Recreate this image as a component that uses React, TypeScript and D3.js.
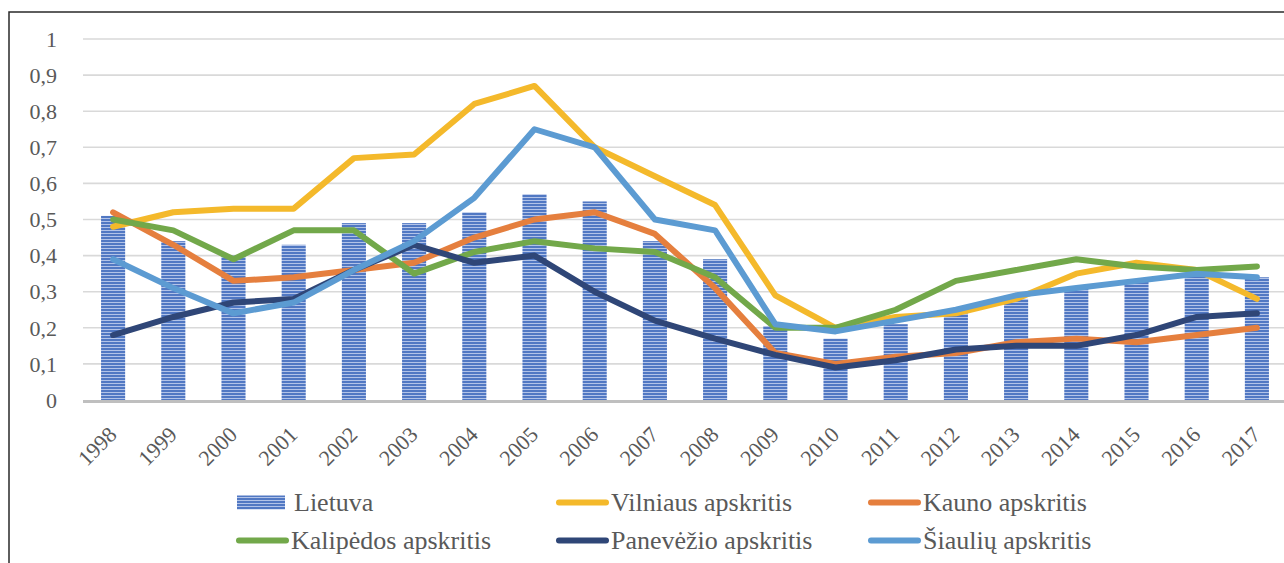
import React, { useRef, useEffect } from 'react';
import * as d3 from 'd3';

const years = ['1998', '1999', '2000', '2001', '2002', '2003', '2004', '2005', '2006', '2007',
  '2008', '2009', '2010', '2011', '2012', '2013', '2014', '2015', '2016', '2017'];

const lietuva = [0.51, 0.44, 0.40, 0.43, 0.49, 0.49, 0.52, 0.57, 0.55, 0.44,
  0.39, 0.205, 0.17, 0.21, 0.24, 0.28, 0.31, 0.33, 0.35, 0.34];
const vilniaus = [0.48, 0.52, 0.53, 0.53, 0.67, 0.68, 0.82, 0.87, 0.70, 0.62,
  0.54, 0.29, 0.20, 0.23, 0.24, 0.28, 0.35, 0.38, 0.36, 0.28];
const kauno = [0.52, 0.43, 0.33, 0.34, 0.36, 0.38, 0.45, 0.50, 0.52, 0.46,
  0.31, 0.13, 0.10, 0.12, 0.13, 0.16, 0.17, 0.16, 0.18, 0.20];
const klaipedos = [0.50, 0.47, 0.39, 0.47, 0.47, 0.35, 0.41, 0.44, 0.42, 0.41,
  0.34, 0.20, 0.20, 0.25, 0.33, 0.36, 0.39, 0.37, 0.36, 0.37];
const panevezio = [0.18, 0.23, 0.27, 0.28, 0.36, 0.43, 0.38, 0.40, 0.30, 0.22,
  0.17, 0.125, 0.09, 0.11, 0.14, 0.15, 0.15, 0.18, 0.23, 0.24];
const siauliu = [0.39, 0.31, 0.24, 0.27, 0.36, 0.44, 0.56, 0.75, 0.70, 0.50,
  0.47, 0.21, 0.19, 0.22, 0.25, 0.29, 0.31, 0.33, 0.35, 0.34];

const yTicks = [0, 0.1, 0.2, 0.3, 0.4, 0.5, 0.6, 0.7, 0.8, 0.9, 1];

const lineSeries = [
  { name: 'Vilniaus apskritis', values: vilniaus, color: '#f4b92b' },
  { name: 'Kauno apskritis', values: kauno, color: '#e57f3e' },
  { name: 'Kalipėdos apskritis', values: klaipedos, color: '#72a84a' },
  { name: 'Panevėžio apskritis', values: panevezio, color: '#2f4677' },
  { name: 'Šiaulių apskritis', values: siauliu, color: '#5c9bd2' },
];

const W = 1284;
const H = 563;
const FONT = 'Liberation Serif';

const App = () => {
  const svgRef = useRef<SVGSVGElement>(null);

  useEffect(() => {
    const svg = d3.select(svgRef.current);
    svg.selectAll('*').remove();

    // stripe pattern for the Lietuva bars
    const pat = svg.append('defs').append('pattern')
      .attr('id', 'stripes')
      .attr('patternUnits', 'userSpaceOnUse')
      .attr('width', 6).attr('height', 3);
    pat.append('rect').attr('width', 6).attr('height', 3).attr('fill', '#5178c3');
    pat.append('rect').attr('y', 2).attr('width', 6).attr('height', 1).attr('fill', '#b2c3e8');

    svg.append('rect').attr('width', W).attr('height', H).attr('fill', '#fff');

    // frame
    svg.append('path')
      .attr('d', `M9,${H} V12 H${W}`)
      .attr('fill', 'none')
      .attr('stroke', '#2a2a2a')
      .attr('stroke-width', 1.5);

    const x = d3.scaleBand().domain(years).range([83, 1287]).paddingInner(0.6).paddingOuter(0.3);
    const y = d3.scaleLinear().domain([0, 1]).range([400, 39]);
    const cx = (yr: string) => (x(yr) as number) + x.bandwidth() / 2;

    // grid
    svg.append('g').selectAll('line')
      .data(yTicks.slice(1))
      .enter().append('line')
      .attr('x1', 83).attr('x2', W)
      .attr('y1', d => y(d)).attr('y2', d => y(d))
      .attr('stroke', '#d9d9d9')
      .attr('stroke-width', 1.6);

    // y labels
    svg.append('g').selectAll('text')
      .data(yTicks)
      .enter().append('text')
      .attr('x', 57)
      .attr('y', d => y(d))
      .attr('dy', '0.35em')
      .attr('text-anchor', 'end')
      .style('font-family', FONT)
      .style('font-size', '22px')
      .style('fill', '#595959')
      .text(d => String(d).replace('.', ','));

    // bars
    svg.append('g').selectAll('rect')
      .data(years)
      .enter().append('rect')
      .attr('x', d => x(d) as number)
      .attr('width', x.bandwidth())
      .attr('y', (d, i) => y(lietuva[i]))
      .attr('height', (d, i) => y(0) - y(lietuva[i]))
      .attr('fill', 'url(#stripes)');

    // x axis line
    svg.append('line')
      .attr('x1', 83).attr('x2', W)
      .attr('y1', 401.5).attr('y2', 401.5)
      .attr('stroke', '#bfbfbf')
      .attr('stroke-width', 3);

    // x labels
    svg.append('g').selectAll('text')
      .data(years)
      .enter().append('text')
      .attr('transform', d => `translate(${cx(d) + 5},436) rotate(-45)`)
      .attr('text-anchor', 'end')
      .style('font-family', FONT)
      .style('font-size', '22px')
      .style('fill', '#595959')
      .text(d => d);

    // lines
    const line = d3.line<number>()
      .x((d, i) => cx(years[i]))
      .y(d => y(d));

    lineSeries.forEach(s => {
      svg.append('path')
        .attr('d', line(s.values))
        .attr('fill', 'none')
        .attr('stroke', s.color)
        .attr('stroke-width', 6)
        .attr('stroke-linejoin', 'round')
        .attr('stroke-linecap', 'round');
    });

    // legend
    const legendItems = [
      { name: 'Lietuva', color: null, tx: 294, row: 0 },
      { name: lineSeries[0].name, color: lineSeries[0].color, tx: 611, row: 0 },
      { name: lineSeries[1].name, color: lineSeries[1].color, tx: 923, row: 0 },
      { name: lineSeries[2].name, color: lineSeries[2].color, tx: 291, row: 1 },
      { name: lineSeries[3].name, color: lineSeries[3].color, tx: 611, row: 1 },
      { name: lineSeries[4].name, color: lineSeries[4].color, tx: 923, row: 1 },
    ];
    const lg = svg.append('g');
    legendItems.forEach(it => {
      const base = 511 + it.row * 38;
      const mid = base - 8.5;
      if (it.color) {
        lg.append('line')
          .attr('x1', it.tx - 52).attr('x2', it.tx - 5)
          .attr('y1', mid).attr('y2', mid)
          .attr('stroke', it.color)
          .attr('stroke-width', 6)
          .attr('stroke-linecap', 'round');
      } else {
        lg.append('rect')
          .attr('x', it.tx - 57).attr('y', mid - 7)
          .attr('width', 48).attr('height', 14)
          .attr('fill', 'url(#stripes)');
      }
      lg.append('text')
        .attr('x', it.tx).attr('y', base)
        .style('font-family', FONT)
        .style('font-size', '26px')
        .style('fill', '#595959')
        .text(it.name);
    });
  }, []);

  return <svg ref={svgRef} width={W} height={H} style={{ display: 'block', position: 'absolute', left: 0, top: 0 }} />;
};

export default App;
